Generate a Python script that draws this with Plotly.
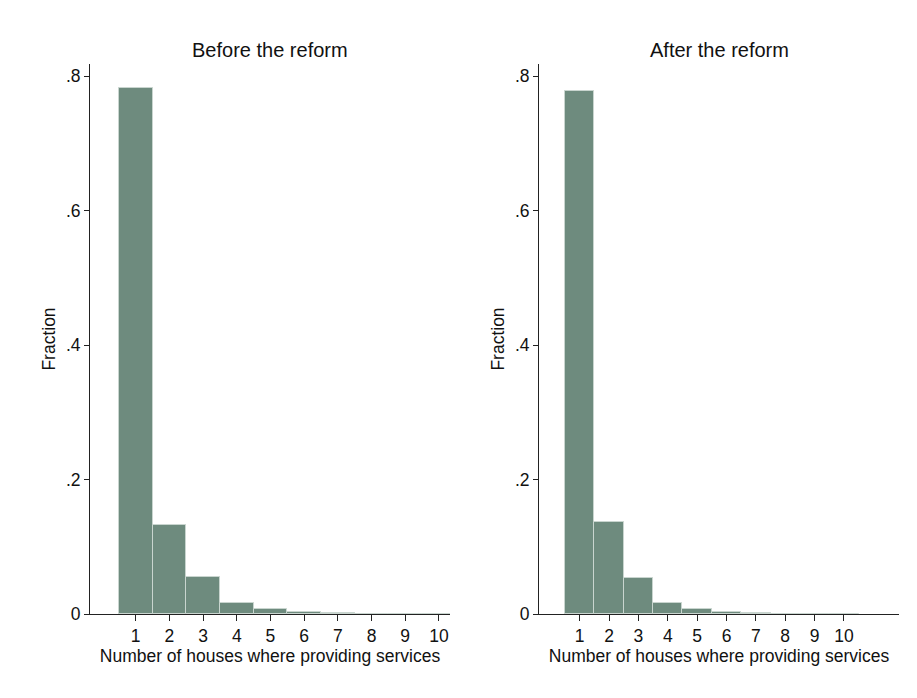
import plotly.graph_objects as go

categories = [1, 2, 3, 4, 5, 6, 7, 8, 9, 10]
before_frac = [0.782, 0.133, 0.055, 0.017, 0.008, 0.003, 0.0012, 0.0006, 0.0003, 0.0003]
after_frac = [0.778, 0.137, 0.054, 0.016, 0.008, 0.0025, 0.001, 0.0005, 0.0003, 0.0002]
y_ticks = [0, 0.2, 0.4, 0.6, 0.8]
y_ticklabels = ["0", ".2", ".4", ".6", ".8"]
x_title = "Number of houses where providing services"

W, H = 917, 698
bar_color = "#6e8b7e"
edge_color = "#c9d5cf"
font = "Liberation Sans, Arial, sans-serif"
fs = 17.5

fig = go.Figure()
fig.add_trace(go.Bar(x=categories, y=before_frac, width=1, marker=dict(color=bar_color, line=dict(color=edge_color, width=1)),
                     xaxis="x", yaxis="y", showlegend=False))
fig.add_trace(go.Bar(x=categories, y=after_frac, width=1, marker=dict(color=bar_color, line=dict(color=edge_color, width=1)),
                     xaxis="x2", yaxis="y2", showlegend=False))

ydom = [(H - 614) / H, (H - 64) / H]
common_x = dict(showgrid=False, zeroline=False, showline=True, linecolor="#222", linewidth=1,
                ticks="outside", ticklen=6, tickcolor="#222", tickvals=categories, automargin=False,
                tickfont=dict(size=fs, color="#111", family=font),
                title=dict(text=x_title, font=dict(size=fs, color="#111", family=font), standoff=0))
common_y = dict(showgrid=False, zeroline=False, showline=True, linecolor="#222", linewidth=1,
                ticks="outside", ticklen=5, tickcolor="#222", tickvals=y_ticks, ticktext=y_ticklabels,
                tickfont=dict(size=fs, color="#111", family=font), range=[0, 0.818], automargin=False,
                title=dict(text="Fraction", font=dict(size=fs, color="#111", family=font), standoff=5))

fig.update_layout(
    width=W, height=H, plot_bgcolor="white", paper_bgcolor="white",
    margin=dict(l=0, r=0, t=0, b=0), bargap=0,
    font=dict(family=font, color="#111"),
    xaxis=dict(domain=[90 / W, 450 / W], range=[-0.356, 10.33], anchor="y", **common_x),
    yaxis=dict(domain=ydom, anchor="x", **common_y),
    xaxis2=dict(domain=[539 / W, 899 / W], range=[-0.387, 11.875], anchor="y2", **common_x),
    yaxis2=dict(domain=ydom, anchor="x2", **common_y),
    annotations=[
        dict(text="Before the reform", x=270 / W, y=(H - 50) / H, xref="paper", yref="paper",
             showarrow=False, font=dict(size=20, color="#111", family=font), xanchor="center", yanchor="middle"),
        dict(text="After the reform", x=719 / W, y=(H - 50) / H, xref="paper", yref="paper",
             showarrow=False, font=dict(size=20, color="#111", family=font), xanchor="center", yanchor="middle"),
    ],
)

fig.write_html("out.html", config={"displayModeBar": False},
               post_script="document.body.style.margin='0';document.body.style.overflow='hidden';")
